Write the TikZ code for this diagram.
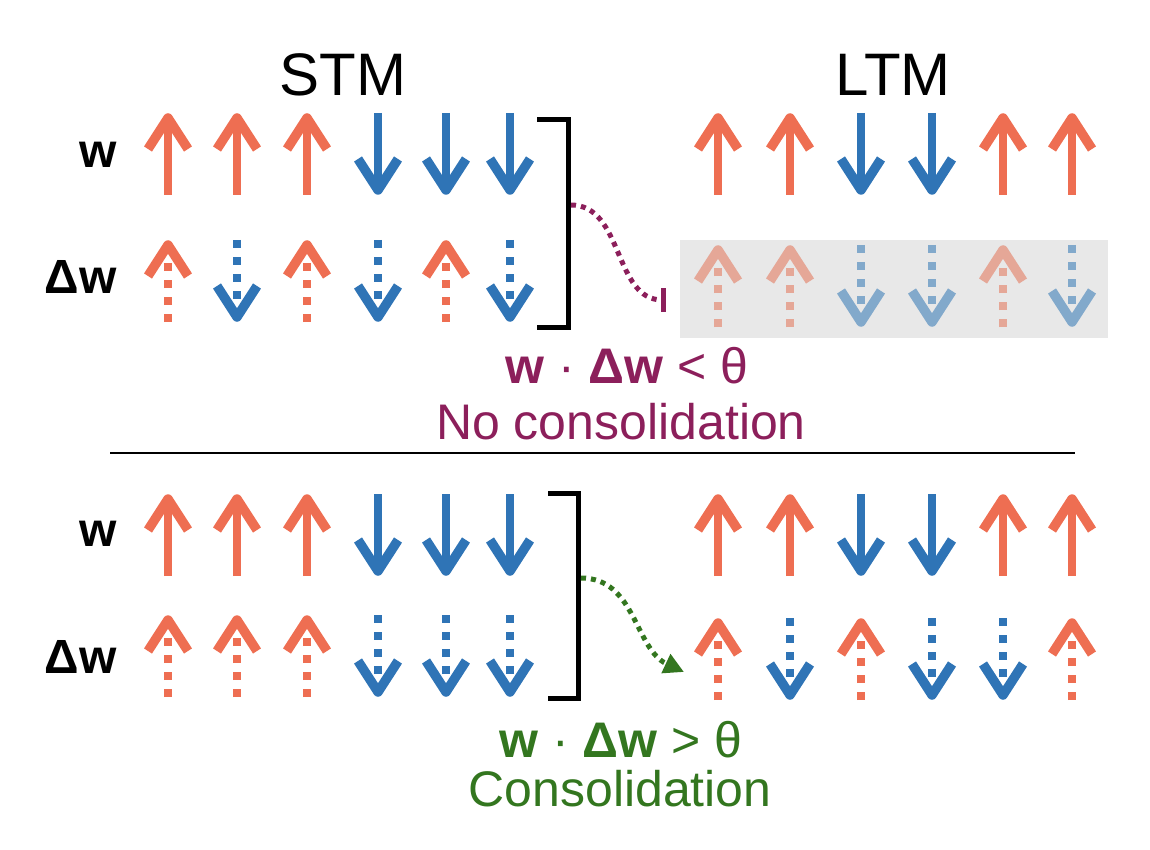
\documentclass[tikz,border=0pt]{standalone}
\usepackage{fontspec}
\setmainfont{Liberation Sans}
\usetikzlibrary{arrows.meta}
\definecolor{upred}{HTML}{EE6E52}
\definecolor{downblue}{HTML}{2F74B6}
\definecolor{upfade}{HTML}{E5A797}
\definecolor{downfade}{HTML}{82A9CB}
\definecolor{boxgray}{HTML}{E8E8E8}
\definecolor{nogate}{HTML}{8C1F5B}
\definecolor{yesgate}{HTML}{33761F}
\tikzset{
      spinline/.style={line width=8pt, line join=round},
      spinhead/.style={line width=9.5pt, line join=round},
      spinup/.style={color=upred},
      spindown/.style={color=downblue, rotate=180},
      fadeup/.style={color=upfade},
      fadedown/.style={color=downfade, rotate=180},
      wspin/.pic={
        \draw[spinline] (0,41) -- (0,-34);
        \draw[spinhead] (-20,-5) -- (0,-36) -- (20,-5);
      },
      dwspin/.pic={
        \draw[spinline, dash pattern=on 8pt off 9pt] (0,41) -- (0,-26);
        \draw[spinhead] (-20,-5) -- (0,-36) -- (20,-5);
      },
      memlabel/.style={font=\fontsize{60}{70}\selectfont, inner sep=0pt},
      rowlabel/.style={font=\fontsize{48}{56}\selectfont\bfseries, anchor=east, inner sep=0pt},
      gatetext/.style={font=\fontsize{50}{60}\selectfont, inner sep=0pt},
      fadebox/.style={fill=boxgray, minimum width=428pt, minimum height=98pt, inner sep=0pt},
      bracket/.style={line width=5pt},
      nogateline/.style={draw=nogate, line width=5pt, dash pattern=on 5pt off 5pt,
        -{Bar[width=24pt, line width=5pt]}},
      yesgateline/.style={draw=yesgate, line width=5pt, dash pattern=on 5pt off 5pt,
        -{Triangle[length=20pt, width=20pt]}}
    }
\begin{document}
\begin{tikzpicture}[x=1pt,y=-1pt]
    \useasboundingbox (0,0) rectangle (1150,850);
    \node[memlabel] (stm) at (343,75) {STM};
    \node[memlabel] (ltm) at (893,75) {LTM};

    % no consolidation
    \node[rowlabel] (wa) at (117,155) {w};
    \node[rowlabel] (dwa) at (117,277) {Δw};
    \foreach \x/\d in {168/spinup, 237/spinup, 307/spinup, 378/spindown, 446/spindown, 510/spindown}
      \pic[\d] at (\x,154) {wspin};
    \foreach \x/\d in {168/spinup, 237/spindown, 307/spinup, 378/spindown, 446/spinup, 510/spindown}
      \pic[\d] at (\x,281) {dwspin};
    \draw[bracket] (537,120) -| (568,327) -- (537,327);
    \foreach \x/\d in {718/spinup, 790/spinup, 861/spindown, 932/spindown, 1003/spinup, 1072/spinup}
      \pic[\d] at (\x,154) {wspin};
    \node[fadebox] (ltmbox) at (894,289) {};
    \foreach \x/\d in {718/fadeup, 790/fadeup, 861/fadedown, 932/fadedown, 1003/fadeup, 1072/fadedown}
      \pic[\d] at (\x,286) {dwspin};
    \coordinate (bra) at (571,205);
    \coordinate (gatea) at (666,300);
    \draw[nogateline] (bra) to[out=0, in=180] (gatea);
    \node[gatetext, text=nogate] (rulea) at (627,366) {\textbf{w} · \textbf{Δw} < θ};
    \node[gatetext, text=nogate] (resa) at (621,422) {No consolidation};

    \draw[line width=2pt] (110,453) -- (1075,453);

    % consolidation
    \node[rowlabel] (wb) at (117,534) {w};
    \node[rowlabel] (dwb) at (117,657) {Δw};
    \foreach \x/\d in {168/spinup, 237/spinup, 307/spinup, 378/spindown, 446/spindown, 510/spindown}
      \pic[\d] at (\x,535) {wspin};
    \foreach \x/\d in {168/spinup, 237/spinup, 307/spinup, 378/spindown, 446/spindown, 510/spindown}
      \pic[\d] at (\x,656) {dwspin};
    \draw[bracket] (548,493) -| (578,698) -- (548,698);
    \foreach \x/\d in {718/spinup, 790/spinup, 861/spindown, 932/spindown, 1003/spinup, 1072/spinup}
      \pic[\d] at (\x,535) {wspin};
    \foreach \x/\d in {718/spinup, 790/spindown, 861/spinup, 932/spindown, 1003/spindown, 1072/spinup}
      \pic[\d] at (\x,659) {dwspin};
    \coordinate (brb) at (581,578);
    \coordinate (gateb) at (684,672);
    \draw[yesgateline] (brb) to[out=0, in=155] (gateb);
    \node[gatetext, text=yesgate] (ruleb) at (621,740) {\textbf{w} · \textbf{Δw} > θ};
    \node[gatetext, text=yesgate] (resb) at (620,789) {Consolidation};
    \end{tikzpicture}
\end{document}
